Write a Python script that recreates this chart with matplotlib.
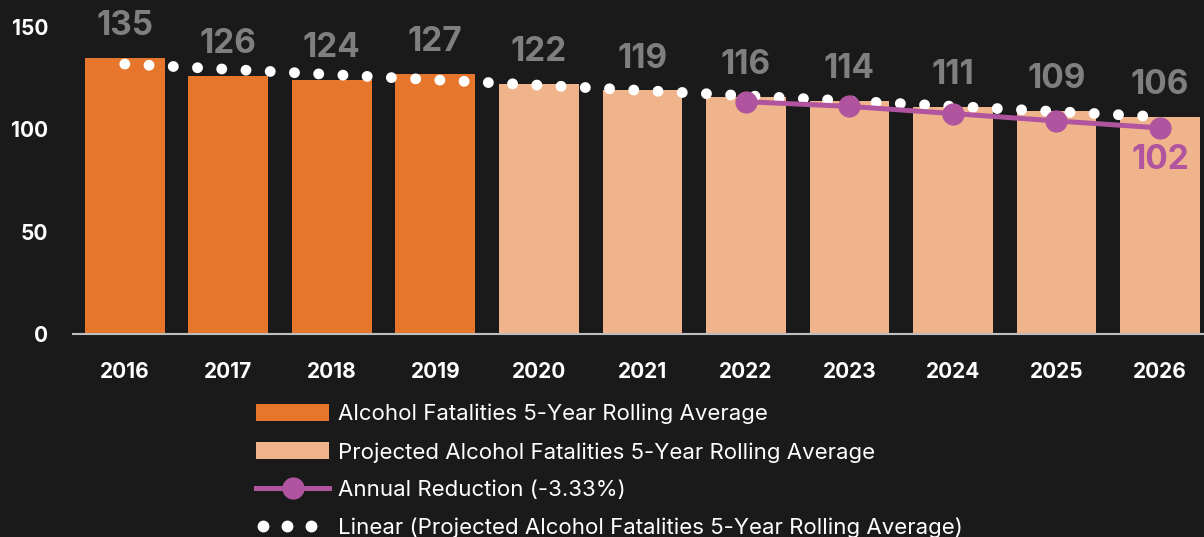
import numpy as np
import matplotlib
matplotlib.use("Agg")
import matplotlib.pyplot as plt
from matplotlib.patches import Patch
from matplotlib.lines import Line2D
from matplotlib.legend_handler import HandlerLine2D

years = ["2016", "2017", "2018", "2019", "2020", "2021", "2022", "2023", "2024", "2025", "2026"]
actual = [135, 126, 124, 127]
projected = [122, 119, 116, 114, 111, 109, 106]
reduction_years = ["2022", "2023", "2024", "2025", "2026"]
reduction = [113.5, 111.2, 107.7, 104.1, 100.7]
reduction_end_label = "102"

BG = "#1a1a1a"
ORANGE = "#e5762b"
PEACH = "#f0b48c"
PURPLE = "#b0549f"
GREY = "#7f7f7f"

plt.rcParams['font.family'] = ['Inter', 'DejaVu Sans']


class DotHandler(HandlerLine2D):
    # squeeze the three legend dots toward the left, like the source
    def get_xdata(self, legend, xdescent, ydescent, width, height, fontsize):
        xd, xm = super().get_xdata(legend, xdescent, ydescent, width, height, fontsize)
        xd = xd[0] + (np.asarray(xd) - xd[0]) * 0.8
        xm = xm[0] + (np.asarray(xm) - xm[0]) * 0.8
        return xd, xm


fig = plt.figure(figsize=(12.04, 5.37), dpi=100, facecolor=BG)
ax = fig.add_axes([73 / 1204, 203 / 537, 1138.75 / 1204, 307 / 537])
ax.set_facecolor(BG)

values = actual + projected
x = np.arange(len(years))
colors = [ORANGE] * len(actual) + [PEACH] * len(projected)
bars = ax.bar(x, values, width=0.77, color=colors, zorder=2)

for xi, v in zip(x, values):
    ax.annotate(str(v), (xi, v), xytext=(0, 23), textcoords='offset points',
                ha='center', va='center', fontsize=24, fontweight='bold',
                color=GREY, annotation_clip=False)

# linear trend through all the bars
coef = np.polyfit(x, values, 1)
tx = np.array([x[0], x[-1]])
ax.plot(tx, np.polyval(coef, tx), color='white', lw=7.8,
        ls=(0, (0.01, 2.23)), dash_capstyle='round', zorder=3)

rx = np.array([years.index(y) for y in reduction_years])
ax.plot(rx, reduction, color=PURPLE, lw=3.6, marker='o', ms=15, zorder=4)
ax.annotate(reduction_end_label, (rx[-1], reduction[-1]), xytext=(0, -23),
            textcoords='offset points', ha='center', va='center',
            fontsize=24, fontweight='bold', color=PURPLE)

ax.set_xlim(-0.5, len(years) - 0.5)
ax.set_ylim(0, 150)
ax.set_yticks([0, 50, 100, 150])
ax.set_xticks(x)
ax.set_xticklabels(years)
for s in ['top', 'right', 'left']:
    ax.spines[s].set_visible(False)
ax.spines['bottom'].set_color('#bfbfbf')
ax.spines['bottom'].set_linewidth(1.5)
ax.tick_params(axis='both', length=0, colors='white', labelsize=15)
ax.tick_params(axis='x', pad=20)
ax.tick_params(axis='y', pad=18)
for lbl in ax.get_xticklabels() + ax.get_yticklabels():
    lbl.set_fontweight('bold')

dots = Line2D([], [], ls='none', marker='o', ms=7.5, color='white')
handles = [
    Patch(facecolor=ORANGE),
    Patch(facecolor=PEACH),
    Line2D([], [], color=PURPLE, lw=3.6, marker='o', ms=15),
    dots,
]
labels = [
    "Alcohol Fatalities 5-Year Rolling Average",
    "Projected Alcohol Fatalities 5-Year Rolling Average",
    "Annual Reduction (-3.33%)",
    "Linear (Projected Alcohol Fatalities 5-Year Rolling Average)",
]
leg = fig.legend(handles, labels, loc='upper left', bbox_to_anchor=(256 / 1204, 1 - 404 / 537),
                 frameon=False, fontsize=16, handlelength=3.3, handleheight=0.8,
                 handletextpad=0.38, labelspacing=0.79, borderpad=0, borderaxespad=0,
                 handler_map={dots: DotHandler(numpoints=3)})
for t in leg.get_texts():
    t.set_color('white')

fig.savefig("out.png", dpi=100, facecolor=BG)
